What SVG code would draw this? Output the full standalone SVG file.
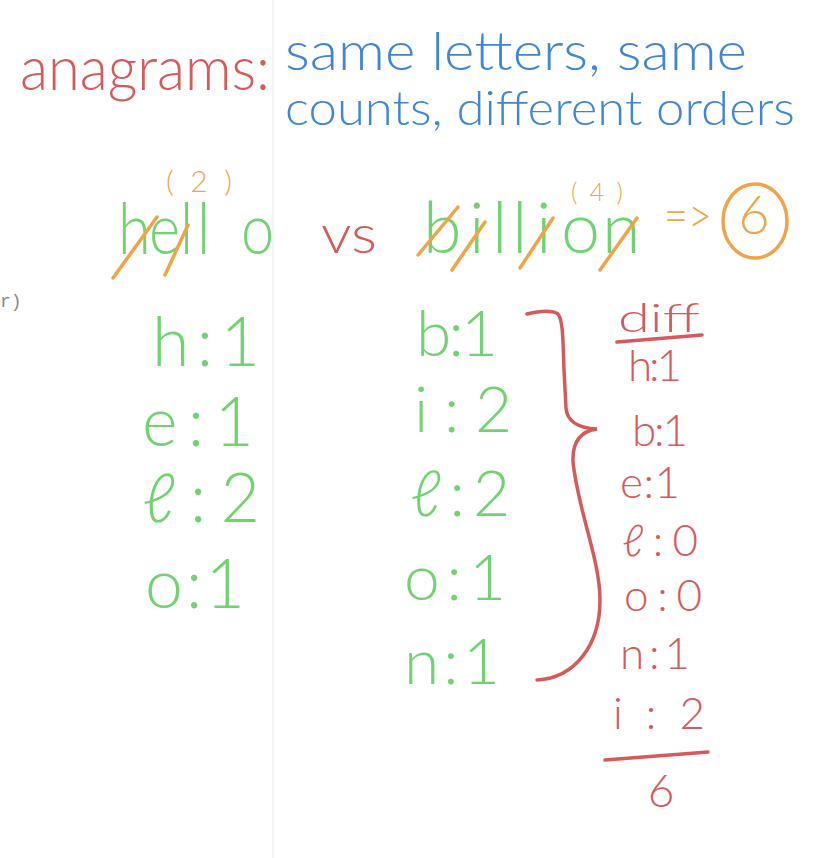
<svg xmlns="http://www.w3.org/2000/svg" width="834" height="858" viewBox="0 0 834 858">
<style>
text{font-family:Lato,"Open Sans","Liberation Sans",sans-serif;font-weight:300}
.red{fill:#d65a5a}
.blue{fill:#3f86d8}
.green{fill:#6fd46f}
.orange{fill:#f0a448}
.ostroke{stroke:#f0a448;stroke-width:3.5;fill:none;stroke-linecap:round}
.rstroke{stroke:#d65a5a;stroke-width:3.5;fill:none;stroke-linecap:round}
</style>
<rect width="834" height="858" fill="#ffffff"/>
<line x1="273" y1="0" x2="273" y2="858" stroke="#f1f1f4" stroke-width="1.5"/>
<text x="0" y="307" font-size="18" fill="#888" style="font-family:'Liberation Mono',monospace;font-weight:400">r)</text>

<g id="title">
<text class="red" x="20" y="90" font-size="62" textLength="250" lengthAdjust="spacingAndGlyphs">anagrams:</text>
<text class="blue" x="285" y="70" font-size="54" textLength="462" lengthAdjust="spacingAndGlyphs">same letters, same</text>
<text class="blue" x="285" y="125" font-size="48" textLength="510" lengthAdjust="spacingAndGlyphs">counts, different orders</text>
</g>

<g id="words">
<text class="orange" x="166" y="192" font-size="30" textLength="66" lengthAdjust="spacing">(2)</text>
<text class="green" transform="translate(118,254) scale(0.85,1)" x="0 36.5 72.9 92.9 144.7" y="0" font-size="70">hello</text>
<text class="red" x="321" y="253" font-size="54" textLength="56" lengthAdjust="spacingAndGlyphs">vs</text>
<text class="green" x="423 469 492 512 536 561 602" y="253" font-size="70">billion</text>
<text class="orange" x="571" y="201" font-size="25" textLength="52" lengthAdjust="spacing">(4)</text>
<text class="orange" x="664" y="233" font-size="50" textLength="48" lengthAdjust="spacingAndGlyphs">=&gt;</text>
<ellipse class="ostroke" cx="755" cy="221" rx="32" ry="37"/>
<text class="orange" x="754" y="234" font-size="54" text-anchor="middle">6</text>
<line class="ostroke" x1="113" y1="278" x2="157" y2="217"/>
<line class="ostroke" x1="165" y1="275" x2="188" y2="225"/>
<line class="ostroke" x1="418" y1="255" x2="458" y2="207"/>
<line class="ostroke" x1="452" y1="270" x2="485" y2="222"/>
<line class="ostroke" x1="520" y1="268" x2="553" y2="218"/>
<line class="ostroke" x1="600" y1="270" x2="637" y2="218"/>
</g>

<g id="hello-counts">
<text class="green" x="152" y="366" font-size="68" textLength="108" lengthAdjust="spacing">h:1</text>
<text class="green" x="142" y="446" font-size="68" textLength="112" lengthAdjust="spacing">e:1</text>
<text class="green" x="142" y="522" font-size="68" textLength="118" lengthAdjust="spacing">ℓ:2</text>
<text class="green" x="145" y="608" font-size="68" textLength="100" lengthAdjust="spacing">o:1</text>
</g>

<g id="billion-counts">
<text class="green" x="416" y="356" font-size="64" textLength="82" lengthAdjust="spacing">b:1</text>
<text class="green" x="414" y="432" font-size="64" textLength="98" lengthAdjust="spacing">i:2</text>
<text class="green" x="410" y="516" font-size="64" textLength="100" lengthAdjust="spacing">ℓ:2</text>
<text class="green" x="404" y="600" font-size="64" textLength="102" lengthAdjust="spacing">o:1</text>
<text class="green" x="404" y="684" font-size="64" textLength="96" lengthAdjust="spacing">n:1</text>
</g>

<g id="brace">
<path class="rstroke" d="M527,314 C540,311 552,310 558,314 C563,320 563,340 564,370 L566,408 C567,422 578,428 597,429 C582,431 572,440 573,462 C578,510 600,560 600,600 C600,645 575,678 537,680"/>
</g>

<g id="diff">
<text class="red" x="618" y="332" font-size="40" textLength="82" lengthAdjust="spacingAndGlyphs">diff</text>
<line class="rstroke" x1="617" y1="342" x2="702" y2="335"/>
<text class="red" x="628" y="381" font-size="44" textLength="54" lengthAdjust="spacing">h:1</text>
<text class="red" x="632" y="446" font-size="44" textLength="56" lengthAdjust="spacing">b:1</text>
<text class="red" x="620" y="498" font-size="44" textLength="60" lengthAdjust="spacing">e:1</text>
<text class="red" x="622" y="556" font-size="44" textLength="76" lengthAdjust="spacing">ℓ:0</text>
<text class="red" x="624" y="611" font-size="44" textLength="78" lengthAdjust="spacing">o:0</text>
<text class="red" x="620" y="669" font-size="44" textLength="70" lengthAdjust="spacing">n:1</text>
<text class="red" x="613" y="729" font-size="44" textLength="92" lengthAdjust="spacing">i:2</text>
<line class="rstroke" x1="605" y1="760" x2="708" y2="752"/>
<text class="red" x="661" y="807" font-size="46" text-anchor="middle">6</text>
</g>
</svg>
